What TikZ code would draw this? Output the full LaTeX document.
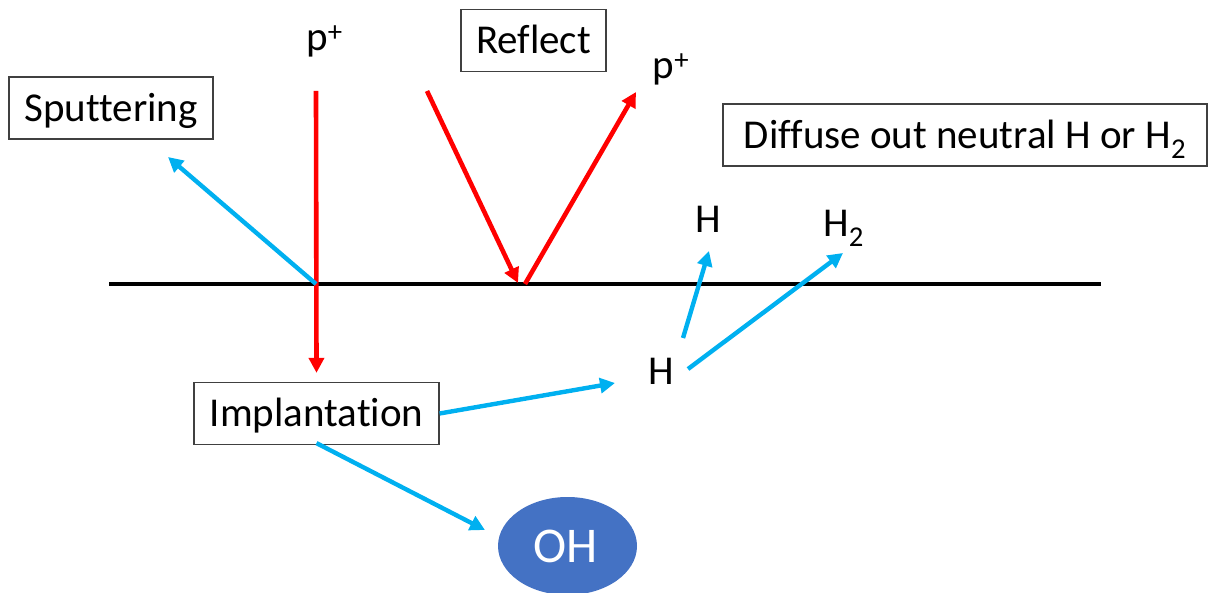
\documentclass[tikz,border=0pt]{standalone}
\usepackage{fontspec}
\setmainfont[Ligatures=CommonOff]{Carlito}
\usetikzlibrary{arrows.meta,shapes.geometric}
\definecolor{beamred}{HTML}{FF0000}
\definecolor{hblue}{HTML}{00B0F0}
\definecolor{ohfill}{HTML}{4472C4}
\begin{document}
\begin{tikzpicture}[x=1pt,y=-1pt,
  txt/.style={inner sep=0pt, font=\fontsize{41}{49}\selectfont,
              text height=26.4pt, text depth=0pt},
  txtbox/.style={txt, draw=black!75, line width=1.3pt, minimum height=62pt},
  tipstyle/.style={-{Triangle[length=15pt,width=15pt]}},
  beam/.style={tipstyle, draw=beamred, fill=beamred, line width=4.6pt},
  hyd/.style={tipstyle, draw=hblue, fill=hblue, line width=4.4pt},
  surface/.style={line width=4.4pt, black}]
\useasboundingbox (0,0) rectangle (1208,593);

% target surface
\coordinate (sl) at (109,284);
\coordinate (sr) at (1101,284);
\draw[surface] (sl) -- (sr);

% process labels
\node[txtbox, minimum width=204pt] (sput) at (111,108) {Sputtering};
\node[txtbox, minimum width=145pt] (refl) at (533.5,40.5) {Reflect};
\node[txtbox, minimum width=484pt] (diff) at (965,135) {Diffuse out neutral H or H\textsubscript{2}};
\node[txtbox, minimum width=245pt] (implant) at (316.5,413.5) {Implantation};

% species
\node[txt] (pin) at (324.5,37) {p\textsuperscript{+}};
\node[txt] (pout) at (671,65.5) {p\textsuperscript{+}};
\node[txt] (hup) at (708.5,219.5) {H};
\node[txt] (htwo) at (843.5,223) {H\textsubscript{2}};
\node[txt] (hlow) at (661,371.5) {H};
\node[ellipse, fill=ohfill, minimum width=139pt, minimum height=98pt, inner sep=0pt] (oh) at (567.5,546) {};
\node[txt, text=white, font=\fontsize{50}{60}\selectfont, text height=32pt] (ohtxt) at (566,546.5) {OH};

% impact points and free ends
\coordinate (hit1) at (316,284);
\coordinate (in1) at (316,91);
\coordinate (in2) at (427,91);
\coordinate (hit2) at (518,283);
\coordinate (out2s) at (525,284);
\coordinate (out2) at (636,92);
\coordinate (sputtip) at (168,157);
\coordinate (hlowtip) at (615,383);
\coordinate (ohtip) at (485,530);
\coordinate (hups) at (683,338);
\coordinate (huptip) at (709,251);
\coordinate (htwos) at (688,369);
\coordinate (htwotip) at (843,253);

% proton paths
\draw[beam] (in1) -- ([yshift=9pt]implant.north);
\draw[beam] (in2) -- (hit2);
\draw[beam] (out2s) -- (out2);

% hydrogen paths
\draw[hyd] (hit1) -- (sputtip);
\draw[hyd] (implant.east) -- (hlowtip);
\draw[hyd] ([yshift=2pt]implant.south) -- (ohtip);
\draw[hyd] (hups) -- (huptip);
\draw[hyd] (htwos) -- (htwotip);
\end{tikzpicture}
\end{document}
